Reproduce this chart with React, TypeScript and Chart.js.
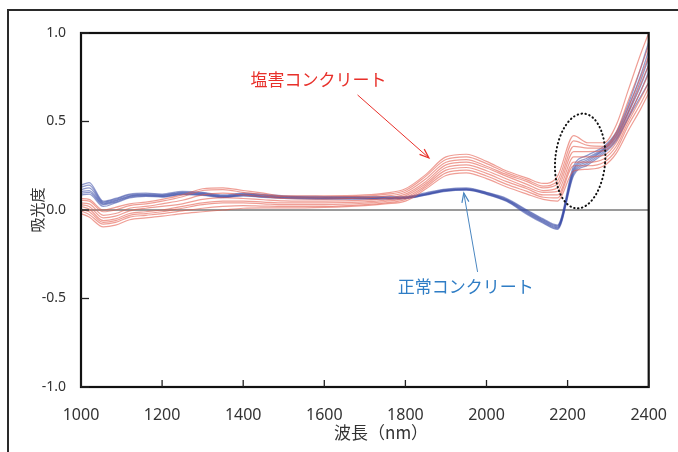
import React, { useEffect, useRef } from "react";
import { Chart, registerables } from "chart.js";

Chart.register(...registerables);

// wavelength (nm)
const wavelengths = [1000, 1020, 1055, 1085, 1120, 1160, 1200, 1250, 1300, 1350, 1400, 1450, 1500, 1600, 1700, 1750, 1800, 1850, 1900, 1950, 2000, 2050, 2100, 2140, 2175, 2215, 2250, 2290, 2320, 2350, 2380, 2400];

// 塩害コンクリート (salt-damaged)
const salt1 = [0.065, 0.06, 0.0, 0.015, 0.035, 0.045, 0.06, 0.085, 0.12, 0.125, 0.11, 0.095, 0.08, 0.08, 0.085, 0.095, 0.12, 0.2, 0.3, 0.315, 0.275, 0.22, 0.18, 0.15, 0.19, 0.42, 0.38, 0.38, 0.48, 0.68, 0.88, 1.0];
const salt2 = [0.055, 0.05, -0.01, 0.0, 0.025, 0.035, 0.05, 0.075, 0.11, 0.115, 0.1, 0.085, 0.075, 0.072, 0.078, 0.088, 0.11, 0.19, 0.285, 0.3, 0.262, 0.21, 0.17, 0.135, 0.165, 0.39, 0.365, 0.36, 0.44, 0.62, 0.8, 0.93];
const salt3 = [0.04, 0.035, -0.03, -0.02, 0.01, 0.02, 0.035, 0.055, 0.085, 0.095, 0.085, 0.075, 0.065, 0.062, 0.068, 0.078, 0.1, 0.175, 0.27, 0.285, 0.247, 0.2, 0.16, 0.125, 0.145, 0.36, 0.35, 0.35, 0.42, 0.58, 0.75, 0.87];
const salt4 = [0.03, 0.02, -0.045, -0.035, -0.005, 0.01, 0.02, 0.035, 0.06, 0.07, 0.065, 0.058, 0.052, 0.05, 0.056, 0.066, 0.09, 0.16, 0.255, 0.27, 0.237, 0.19, 0.145, 0.11, 0.125, 0.33, 0.33, 0.335, 0.4, 0.55, 0.71, 0.82];
const salt5 = [0.02, 0.005, -0.06, -0.05, -0.02, -0.01, 0.0, 0.02, 0.04, 0.05, 0.05, 0.045, 0.04, 0.04, 0.046, 0.056, 0.08, 0.148, 0.24, 0.255, 0.222, 0.175, 0.13, 0.1, 0.105, 0.3, 0.3, 0.31, 0.38, 0.52, 0.67, 0.77];
const salt6 = [0.005, -0.01, -0.07, -0.06, -0.03, -0.02, -0.01, 0.01, 0.03, 0.04, 0.04, 0.035, 0.03, 0.03, 0.038, 0.048, 0.07, 0.138, 0.225, 0.24, 0.207, 0.16, 0.12, 0.085, 0.085, 0.27, 0.27, 0.29, 0.36, 0.5, 0.63, 0.72];
const salt7 = [-0.005, -0.025, -0.08, -0.07, -0.04, -0.03, -0.02, -0.005, 0.01, 0.02, 0.025, 0.022, 0.02, 0.02, 0.03, 0.04, 0.06, 0.128, 0.21, 0.225, 0.192, 0.145, 0.105, 0.072, 0.068, 0.25, 0.25, 0.27, 0.34, 0.48, 0.6, 0.69];
const salt8 = [-0.02, -0.04, -0.095, -0.085, -0.055, -0.045, -0.035, -0.02, -0.01, 0.0, 0.01, 0.012, 0.012, 0.015, 0.025, 0.035, 0.05, 0.118, 0.195, 0.21, 0.177, 0.13, 0.09, 0.06, 0.05, 0.22, 0.23, 0.25, 0.32, 0.45, 0.57, 0.66];

// 正常コンクリート (normal)
const normal1 = [0.14, 0.155, 0.05, 0.065, 0.09, 0.095, 0.09, 0.105, 0.1, 0.085, 0.095, 0.088, 0.08, 0.076, 0.075, 0.075, 0.076, 0.097, 0.118, 0.125, 0.1, 0.065, 0.0, -0.05, -0.085, 0.25, 0.31, 0.36, 0.44, 0.6, 0.8, 0.95];
const normal2 = [0.13, 0.14, 0.045, 0.06, 0.085, 0.09, 0.086, 0.1, 0.096, 0.081, 0.091, 0.084, 0.077, 0.072, 0.071, 0.071, 0.073, 0.093, 0.115, 0.121, 0.098, 0.06, -0.005, -0.055, -0.09, 0.235, 0.295, 0.35, 0.43, 0.58, 0.76, 0.9];
const normal3 = [0.115, 0.125, 0.04, 0.055, 0.08, 0.087, 0.082, 0.097, 0.092, 0.078, 0.088, 0.08, 0.074, 0.069, 0.068, 0.068, 0.07, 0.09, 0.112, 0.118, 0.095, 0.057, -0.01, -0.06, -0.095, 0.225, 0.285, 0.345, 0.42, 0.56, 0.73, 0.86];
const normal4 = [0.105, 0.11, 0.035, 0.05, 0.077, 0.083, 0.079, 0.093, 0.089, 0.075, 0.085, 0.077, 0.071, 0.067, 0.066, 0.066, 0.068, 0.088, 0.11, 0.116, 0.093, 0.054, -0.015, -0.065, -0.1, 0.215, 0.275, 0.34, 0.41, 0.55, 0.7, 0.82];
const normal5 = [0.095, 0.1, 0.03, 0.045, 0.073, 0.08, 0.076, 0.09, 0.086, 0.072, 0.082, 0.074, 0.069, 0.065, 0.064, 0.064, 0.066, 0.086, 0.108, 0.114, 0.09, 0.051, -0.02, -0.07, -0.105, 0.205, 0.265, 0.33, 0.4, 0.53, 0.67, 0.78];
const normal6 = [0.085, 0.09, 0.02, 0.04, 0.068, 0.077, 0.073, 0.087, 0.083, 0.07, 0.08, 0.071, 0.066, 0.062, 0.062, 0.062, 0.064, 0.084, 0.106, 0.112, 0.088, 0.048, -0.025, -0.075, -0.11, 0.195, 0.255, 0.32, 0.39, 0.52, 0.64, 0.72];

const saltSeries = [salt1, salt2, salt3, salt4, salt5, salt6, salt7, salt8];
const normalSeries = [normal1, normal2, normal3, normal4, normal5, normal6];

const xTickValues = [1000, 1200, 1400, 1600, 1800, 2000, 2200, 2400];
const yTickValues = [-1.0, -0.5, 0.0, 0.5, 1.0];

const saltLabel = "塩害コンクリート";
const normalLabel = "正常コンクリート";
const xTitle = "波長（nm）";
const yTitle = "吸光度";

const JP = '"Noto Sans CJK JP", "Noto Sans", sans-serif';

function drawArrow(ctx: CanvasRenderingContext2D, x1: number, y1: number, x2: number, y2: number, color: string) {
  ctx.save();
  ctx.strokeStyle = color;
  ctx.lineWidth = 1;
  ctx.beginPath();
  ctx.moveTo(x1, y1);
  ctx.lineTo(x2, y2);
  ctx.stroke();
  const a = Math.atan2(y2 - y1, x2 - x1);
  const L = 10;
  const s = 0.36;
  ctx.lineWidth = 1.2;
  ctx.beginPath();
  ctx.moveTo(x2 - L * Math.cos(a - s), y2 - L * Math.sin(a - s));
  ctx.lineTo(x2, y2);
  ctx.lineTo(x2 - L * Math.cos(a + s), y2 - L * Math.sin(a + s));
  ctx.stroke();
  ctx.restore();
}

const decorPlugin = {
  id: "decor",
  beforeDatasetsDraw(chart: any) {
    const { ctx, chartArea, scales } = chart;
    const y0 = scales.y.getPixelForValue(0);
    ctx.save();
    ctx.strokeStyle = "#9a9a9a";
    ctx.lineWidth = 2;
    ctx.beginPath();
    ctx.moveTo(chartArea.left, y0);
    ctx.lineTo(chartArea.right, y0);
    ctx.stroke();
    ctx.restore();
  },
  afterDatasetsDraw(chart: any) {
    const { ctx, chartArea, scales } = chart;
    const xs = scales.x;
    const ys = scales.y;
    const { left, right, top, bottom } = chartArea;
    ctx.save();
    // outer frame
    ctx.strokeStyle = "#2a2a2a";
    ctx.lineWidth = 2;
    ctx.strokeRect(8, 10, 800, 600);
    // plot frame
    ctx.strokeStyle = "#111";
    ctx.lineWidth = 2.2;
    ctx.strokeRect(left, top, right - left, bottom - top);
    // ticks
    ctx.lineWidth = 1.3;
    ctx.strokeStyle = "#222";
    xTickValues.forEach((v) => {
      const x = xs.getPixelForValue(v);
      ctx.beginPath();
      ctx.moveTo(x, bottom);
      ctx.lineTo(x, bottom - 7);
      ctx.stroke();
    });
    yTickValues.forEach((v) => {
      const y = ys.getPixelForValue(v);
      ctx.beginPath();
      ctx.moveTo(left, y);
      ctx.lineTo(left + 8, y);
      ctx.stroke();
    });
    ctx.restore();

    // x-axis title (centred slightly right of the plot centre, as in the original)
    ctx.save();
    ctx.font = `17px ${JP}`;
    ctx.textAlign = "center";
    ctx.textBaseline = "middle";
    ctx.fillStyle = "#333";
    ctx.fillText(xTitle, xs.getPixelForValue(1740), 433);
    ctx.restore();

    // annotations
    ctx.save();
    ctx.font = `17px ${JP}`;
    ctx.textAlign = "center";
    ctx.textBaseline = "middle";
    ctx.fillStyle = "#e8302a";
    ctx.fillText(saltLabel, xs.getPixelForValue(1586), ys.getPixelForValue(0.735));
    drawArrow(ctx, xs.getPixelForValue(1682), ys.getPixelForValue(0.65), xs.getPixelForValue(1858), ys.getPixelForValue(0.294), "#e8302a");
    ctx.fillStyle = "#2f7dc5";
    ctx.fillText(normalLabel, xs.getPixelForValue(1949), ys.getPixelForValue(-0.435));
    drawArrow(ctx, xs.getPixelForValue(1978), ys.getPixelForValue(-0.35), xs.getPixelForValue(1944), ys.getPixelForValue(0.096), "#4a86c0");

    // dotted ellipse
    ctx.strokeStyle = "#111";
    ctx.lineWidth = 2;
    ctx.lineCap = "round";
    ctx.setLineDash([0.5, 3.5]);
    ctx.beginPath();
    ctx.ellipse(xs.getPixelForValue(2231), ys.getPixelForValue(0.277), 25, 47.5, 0.08, 0, Math.PI * 2);
    ctx.stroke();
    ctx.restore();
  },
};

export default function App() {
  const canvasRef = useRef<HTMLCanvasElement | null>(null);

  useEffect(() => {
    if (!canvasRef.current) return;
    const mk = (arr: number[]) => arr.map((v, i) => ({ x: wavelengths[i], y: v }));
    const datasets: any[] = [];
    saltSeries.forEach((s, i) =>
      datasets.push({
        label: `${saltLabel} ${i + 1}`,
        data: mk(s),
        borderColor: "rgba(228, 88, 72, 0.58)",
        borderWidth: 1.2,
        pointRadius: 0,
        cubicInterpolationMode: "monotone",
        fill: false,
      })
    );
    normalSeries.forEach((s, i) =>
      datasets.push({
        label: `${normalLabel} ${i + 1}`,
        data: mk(s),
        borderColor: "rgba(55, 72, 165, 0.55)",
        borderWidth: 1.3,
        pointRadius: 0,
        cubicInterpolationMode: "monotone",
        fill: false,
      })
    );

    const chart = new Chart(canvasRef.current, {
      type: "line",
      data: { datasets },
      plugins: [decorPlugin],
      options: {
        animation: false,
        responsive: false,
        devicePixelRatio: 1,
        layout: { padding: { left: 0, right: 26, top: 33, bottom: 0 } },
        plugins: { legend: { display: false }, tooltip: { enabled: false } },
        scales: {
          x: {
            type: "linear",
            min: 1000,
            max: 2400,
            afterFit: (s: any) => {
              s.height = 65;
            },
            afterBuildTicks: (s: any) => {
              s.ticks = xTickValues.map((v) => ({ value: v }));
            },
            grid: { display: false },
            border: { display: false },
            ticks: {
              padding: 11,
              color: "#333",
              font: { family: '"Noto Sans", sans-serif', size: 16 },
              maxRotation: 0,
              callback: (v: any) => String(v),
            },
            title: { display: false },
          },
          y: {
            min: -1,
            max: 1,
            afterFit: (s: any) => {
              s.width = 81;
            },
            afterBuildTicks: (s: any) => {
              s.ticks = yTickValues.map((v) => ({ value: v }));
            },
            grid: { display: false },
            border: { display: false },
            ticks: {
              padding: 7,
              color: "#333",
              font: { family: '"Noto Sans", sans-serif', size: 14 },
              callback: (v: any) => Number(v).toFixed(1),
            },
            title: {
              display: true,
              text: yTitle,
              color: "#333",
              font: { family: JP, size: 15 },
              padding: { top: 28, bottom: 0 },
            },
          },
        },
      },
    });
    return () => chart.destroy();
  }, []);

  return (
    <div style={{ position: "fixed", left: 0, top: 0, width: 678, height: 452, background: "#fff" }}>
      <canvas ref={canvasRef} width={678} height={452} style={{ width: 678, height: 452, display: "block" }} />
    </div>
  );
}
